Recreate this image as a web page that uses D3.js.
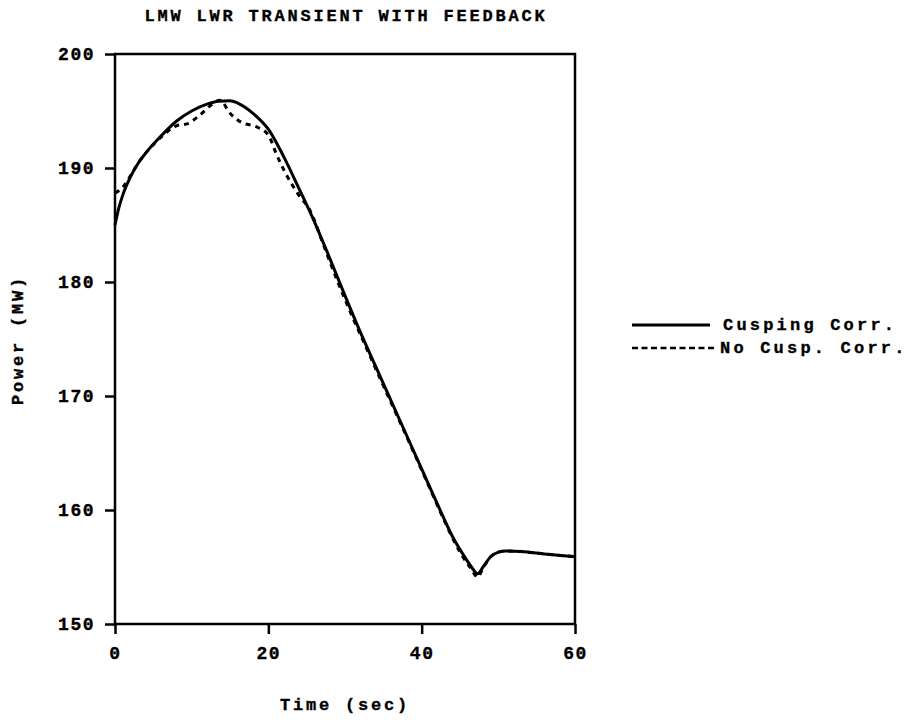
<!DOCTYPE html>
<html>
<head>
<meta charset="utf-8">
<script src="https://cdn.jsdelivr.net/npm/d3@7"></script>
<style>
  body { margin: 0; background: #fff; }
  text { font-family: "Liberation Mono", "Courier New", monospace; font-weight: bold; fill: #000; stroke: #000; stroke-width: 0.35px; }
</style>
</head>
<body>
<svg id="chart" width="907" height="720"></svg>
<script>
// values
var xTicks = [0, 20, 40, 60];
var yTicks = [150, 160, 170, 180, 190, 200];

var cuspT = [0, 0.5, 1, 2, 3, 4, 6, 8, 10, 12, 13.5, 15, 16, 18, 20, 22, 24, 26, 28, 30, 32, 34, 36, 38, 40, 42, 44, 45.5, 46.5, 47.3, 48, 49, 50, 51, 53, 56, 60];
var cuspP = [185, 186.5, 187.6, 189.2, 190.4, 191.3, 192.8, 194.1, 195.0, 195.6, 195.85, 195.9, 195.7, 194.8, 193.4, 191.0, 188.2, 185.3, 182.1, 178.8, 175.6, 172.6, 169.6, 166.6, 163.6, 160.6, 157.7, 156.0, 155.0, 154.4, 155.0, 155.9, 156.3, 156.4, 156.35, 156.15, 155.9];

var noCuspT = [0, 1, 2, 3, 4, 6, 8, 9.5, 11, 12.5, 13.7, 15, 16.5, 18.5, 20, 21, 22.2, 24, 25.5, 27, 29, 31, 33, 35, 38, 41, 43, 45, 46.5, 47.3, 48, 49, 50, 51, 53, 56, 60];
var noCuspP = [187.8, 188.3, 189.3, 190.4, 191.3, 192.7, 193.7, 193.9, 194.6, 195.5, 195.95, 194.8, 194.0, 193.6, 192.9, 191.3, 189.6, 187.6, 186.2, 183.6, 180.1, 176.9, 173.9, 170.9, 166.5, 162.0, 159.0, 156.3, 154.8, 154.1, 154.9, 155.9, 156.3, 156.4, 156.35, 156.15, 155.9];

var legendLabels = ["Cusping Corr.", "No Cusp. Corr."];

(function() {
  var svg = d3.select("#chart");

  var x = d3.scaleLinear().domain([0, 60]).range([115, 575]);
  var y = d3.scaleLinear().domain([150, 200]).range([624, 54]);

  // title
  svg.append("text")
    .attr("x", 346).attr("y", 21)
    .attr("text-anchor", "middle")
    .style("font-size", "17px")
    .style("letter-spacing", "2.8px")
    .text("LMW LWR TRANSIENT WITH FEEDBACK");

  // frame
  svg.append("rect")
    .attr("x", x(0)).attr("y", y(200))
    .attr("width", x(60) - x(0)).attr("height", y(150) - y(200))
    .attr("fill", "none").attr("stroke", "#000").attr("stroke-width", 2.5);

  var xAxis = svg.append("g")
    .attr("transform", "translate(0," + y(150) + ")")
    .call(d3.axisBottom(x).tickValues(xTicks).tickSize(10).tickPadding(12).tickFormat(d3.format("d")));
  var yAxis = svg.append("g")
    .attr("transform", "translate(" + x(0) + ",0)")
    .call(d3.axisLeft(y).tickValues(yTicks).tickSize(10).tickPadding(10).tickFormat(d3.format("d")));

  [xAxis, yAxis].forEach(function(g) {
    g.select(".domain").remove();
    g.selectAll(".tick line").attr("stroke", "#000").attr("stroke-width", 2.5);
    g.selectAll(".tick text")
      .style("font-family", "'Liberation Mono', monospace")
      .style("font-weight", "bold")
      .style("font-size", "18px")
      .style("letter-spacing", "1.5px")
      .attr("fill", "#000");
  });

  // axis titles
  svg.append("text")
    .attr("x", 345).attr("y", 710)
    .attr("text-anchor", "middle")
    .style("font-size", "17px")
    .style("letter-spacing", "2.8px")
    .text("Time (sec)");

  svg.append("text")
    .attr("transform", "translate(23,340) rotate(-90)")
    .attr("text-anchor", "middle")
    .style("font-size", "17px")
    .style("letter-spacing", "2.8px")
    .text("Power (MW)");

  var line = d3.line()
    .x(function(d) { return x(d[0]); })
    .y(function(d) { return y(d[1]); })
    .curve(d3.curveMonotoneX);

  var cusp = d3.zip(cuspT, cuspP);
  var noCusp = d3.zip(noCuspT, noCuspP);

  svg.append("path")
    .datum(noCusp)
    .attr("d", line)
    .attr("fill", "none").attr("stroke", "#000")
    .attr("stroke-width", 3)
    .attr("stroke-dasharray", "5,5");

  svg.append("path")
    .datum(cusp)
    .attr("d", line)
    .attr("fill", "none").attr("stroke", "#000")
    .attr("stroke-width", 3);

  // legend
  var legend = svg.append("g");
  legendLabels.forEach(function(label, i) {
    var ly = 325 + i * 23;
    legend.append("line")
      .attr("x1", 632).attr("x2", i === 0 ? 710 : 714)
      .attr("y1", ly).attr("y2", ly)
      .attr("stroke", "#000").attr("stroke-width", i === 0 ? 3 : 2.5)
      .attr("stroke-dasharray", i === 0 ? null : "6,3.5");
    legend.append("text")
      .attr("x", i === 0 ? 723 : 720).attr("y", ly + 5)
      .style("font-size", "17px")
      .style("letter-spacing", "3.2px")
      .text(label);
  });
})();
</script>
</body>
</html>
